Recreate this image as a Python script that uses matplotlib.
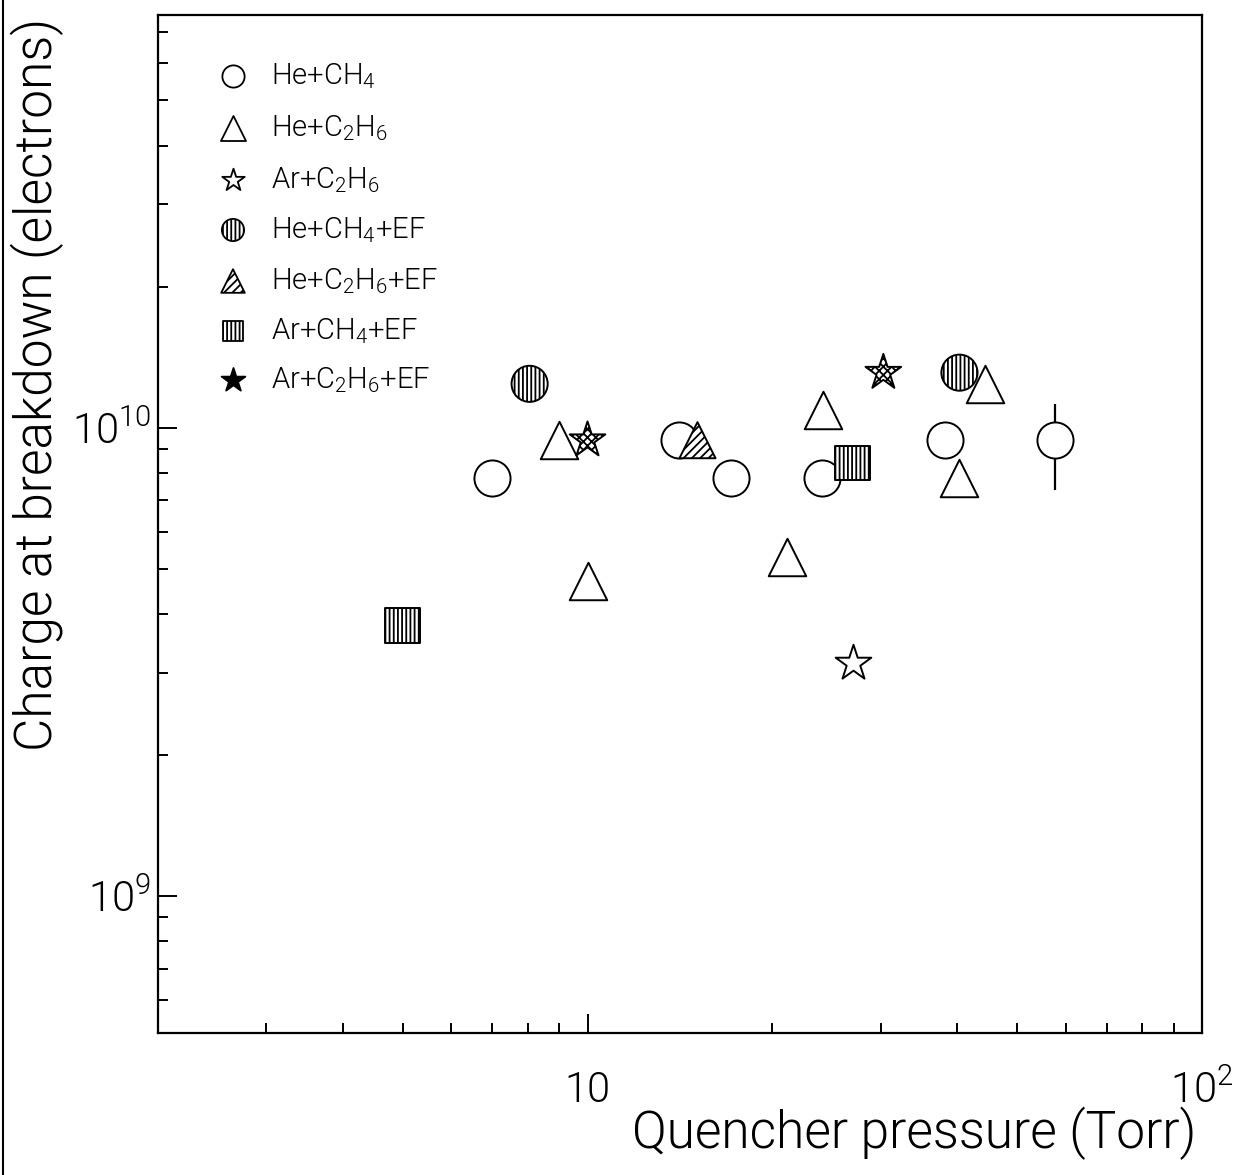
import matplotlib
matplotlib.use("Agg")
import matplotlib.pyplot as plt
from matplotlib import font_manager
from matplotlib.lines import Line2D
from matplotlib.ticker import FixedLocator, NullFormatter, LogLocator

# pick a thin sans font if available
fam, wt = "Liberation Sans", "normal"
light = {}
for f in font_manager.fontManager.ttflist:
    try:
        w = int(f.weight)
    except (TypeError, ValueError):
        w = 400
    if f.style == 'normal' and w <= 300:
        light.setdefault(f.name, []).append(w)
for cand in ["Roboto", "Lato", "Open Sans", "Inter", "Noto Sans"]:
    if cand in light:
        fam, wt = cand, max(light[cand])
        break
plt.rcParams['font.family'] = [fam, 'DejaVu Sans']
plt.rcParams['font.weight'] = wt
plt.rcParams['mathtext.fontset'] = 'custom'
plt.rcParams['mathtext.rm'] = f"{fam}:weight={wt}"
plt.rcParams['mathtext.it'] = f"{fam}:weight={wt}"
plt.rcParams['mathtext.default'] = 'rm'
plt.rcParams['hatch.linewidth'] = 1.3

# ---------------- data ----------------
he_ch4_x = [7.0, 14.1, 17.1, 24.1, 38.2, 57.7]
he_ch4_y = [7.8e9, 9.4e9, 7.8e9, 7.8e9, 9.4e9, 9.4e9]
err_x = [57.7]
err_y = [9.4e9]
err_lo = [2.05e9]
err_hi = [1.85e9]

he_c2h6_x = [9.0, 10.0, 21.1, 24.2, 40.3, 44.4]
he_c2h6_y = [9.4e9, 4.7e9, 5.3e9, 1.09e10, 7.8e9, 1.24e10]

ar_c2h6_x = [27.0]
ar_c2h6_y = [3.14e9]

he_ch4_ef_x = [8.05, 40.3]
he_ch4_ef_y = [1.24e10, 1.31e10]

he_c2h6_ef_x = [15.1]
he_c2h6_ef_y = [9.4e9]

ar_ch4_ef_x = [5.0, 27.0]
ar_ch4_ef_y = [3.78e9, 8.4e9]

ar_c2h6_ef_x = [10.0, 30.3]
ar_c2h6_ef_y = [9.4e9, 1.31e10]

legend_labels = [r"He+CH$_4$", r"He+C$_2$H$_6$", r"Ar+C$_2$H$_6$",
                 r"He+CH$_4$+EF", r"He+C$_2$H$_6$+EF", r"Ar+CH$_4$+EF",
                 r"Ar+C$_2$H$_6$+EF"]

x_ticks = [10, 100]
x_ticklabels = ["10", r"$10^{2}$"]
y_ticks = [1e9, 1e10]
y_ticklabels = [r"$10^{9}$", r"$10^{10}$"]

# ---------------- figure ----------------
W, H = 1251, 1175
fig = plt.figure(figsize=(W / 100, H / 100), dpi=100)
L, R, T, B = 158, 1202, 15, 1033
ax = fig.add_axes([L / W, 1 - B / H, (R - L) / W, (B - T) / H])
ax.set_xscale('log')
ax.set_yscale('log')
ax.set_xlim(2, 100)
ax.set_ylim(5.1e8, 7.6e10)

for s in ax.spines.values():
    s.set_linewidth(1.6)

lw = 1.4
kw_open = dict(facecolors='white', edgecolors='black', linewidths=lw)

ax.errorbar(err_x, err_y, yerr=[err_lo, err_hi], fmt='none', ecolor='black',
            elinewidth=1.6, capsize=0, zorder=1)
ax.scatter(he_ch4_x, he_ch4_y, marker='o', s=26**2, zorder=2, **kw_open)
ax.scatter(he_ch4_ef_x, he_ch4_ef_y, marker='o', s=26**2, hatch='||||', zorder=3, **kw_open)
ax.scatter(he_c2h6_x, he_c2h6_y, marker='^', s=27**2, zorder=4, **kw_open)
ax.scatter(ar_c2h6_x, ar_c2h6_y, marker='*', s=27**2, zorder=4, **kw_open)
ax.scatter(he_c2h6_ef_x, he_c2h6_ef_y, marker='^', s=26**2, hatch='////', zorder=5, **kw_open)
ax.scatter(ar_ch4_ef_x, ar_ch4_ef_y, marker='s', s=25**2, hatch='||||', zorder=5, **kw_open)
ax.scatter(ar_c2h6_ef_x, ar_c2h6_ef_y, marker='*', s=27**2, hatch='xxxx', zorder=6, **kw_open)

# ticks
ax.xaxis.set_major_locator(FixedLocator(x_ticks))
ax.yaxis.set_major_locator(FixedLocator(y_ticks))
ax.set_xticklabels(x_ticklabels)
ax.set_yticklabels(y_ticklabels)
ax.xaxis.set_minor_locator(LogLocator(base=10, subs=range(2, 10), numticks=20))
ax.yaxis.set_minor_locator(LogLocator(base=10, subs=range(2, 10), numticks=20))
ax.xaxis.set_minor_formatter(NullFormatter())
ax.yaxis.set_minor_formatter(NullFormatter())
ax.tick_params(which='both', direction='in', top=False, right=False, width=1.4, color='black')
ax.tick_params(which='major', length=14)
ax.tick_params(which='minor', length=7)
ax.tick_params(axis='x', which='major', pad=27, labelsize=30)
ax.tick_params(axis='y', which='major', pad=5, labelsize=30)

# legend (manual)
leg_markers = ['o', '^', '*', 'o', '^', 's', '*']
leg_hatch = [None, None, None, '||||', '////', '||||', None]
leg_face = ['white', 'white', 'white', 'white', 'white', 'white', 'black']
leg_size = [16, 18, 17, 16, 17, 14, 18]
rows_px = [76, 128, 180, 230, 281, 331, 380]
mx_px, tx_px = 233, 271
for m, h, fc, sz, ypx, lab in zip(leg_markers, leg_hatch, leg_face, leg_size, rows_px, legend_labels):
    xa = (mx_px - L) / (R - L)
    ya = 1 - (ypx - T) / (B - T)
    ax.scatter([xa], [ya], marker=m, s=sz**2, facecolors=fc, edgecolors='black',
               linewidths=1.3, hatch=h, transform=ax.transAxes, zorder=7, clip_on=False)
    ax.text((tx_px - L) / (R - L), ya, lab, transform=ax.transAxes, fontsize=21,
            ha='left', va='center')

# axis labels
fig.text(37 / W, 1 - 18 / H, "Charge at breakdown (electrons)", rotation=90,
         ha='center', va='top', fontsize=37)
fig.text(1196 / W, 1 - 1133 / H, "Quencher pressure (Torr)", ha='right',
         va='center', fontsize=37)

# left border line of the scanned page
fig.add_artist(Line2D([3 / W, 3 / W], [0, 1], color='black', lw=1.5, transform=fig.transFigure))

fig.savefig("out.png", dpi=100)
